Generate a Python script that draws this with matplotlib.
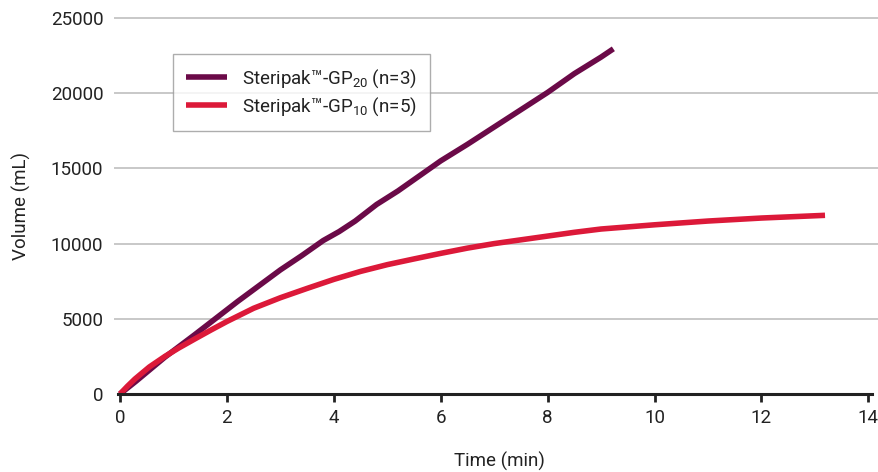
import matplotlib
matplotlib.use('Agg')
import matplotlib.pyplot as plt

plt.rcParams['font.family'] = ['Roboto', 'DejaVu Sans']
plt.rcParams['mathtext.fontset'] = 'custom'
plt.rcParams['mathtext.rm'] = 'Roboto'
plt.rcParams['mathtext.it'] = 'Roboto'

# GP20 (n=3)
t_gp20 = [0, 0.3, 0.84, 1.4, 1.8, 2.2, 2.6, 3.0, 3.4, 3.8, 4.1, 4.4, 4.8, 5.2, 5.6, 6.0,
          6.5, 7.0, 7.5, 8.0, 8.5, 9.0, 9.23]
v_gp20 = [0, 850, 2450, 3950, 5050, 6150, 7200, 8250, 9200, 10200, 10800, 11500, 12600,
          13500, 14500, 15500, 16600, 17750, 18900, 20050, 21300, 22400, 22950]

# GP10 (n=5)
t_gp10 = [0, 0.14, 0.28, 0.55, 0.84, 1.1, 1.4, 1.7, 2.0, 2.5, 3.0, 3.5, 4.0, 4.5, 5.0,
          5.5, 6.0, 6.5, 7.0, 7.5, 8.0, 8.5, 9.0, 10, 11, 12, 13.19]
v_gp10 = [0, 520, 1000, 1800, 2500, 3060, 3660, 4250, 4820, 5700, 6400, 7020, 7620, 8150,
          8600, 8980, 9350, 9700, 10000, 10250, 10500, 10750, 10970, 11250, 11500, 11700,
          11880]

labels = ['Steripak\u2122-GP$_{20}$ (n=3)', 'Steripak\u2122-GP$_{10}$ (n=5)']
purple = '#6b0a48'
red = '#dc1939'

fig = plt.figure(figsize=(8.79, 4.72), dpi=100)
ax = fig.add_axes([120 / 879, 1 - 394 / 472, 759 / 879, 376 / 472])

ax.set_xlim(0, 14.2)
ax.set_ylim(0, 25000)

for y in [5000, 10000, 15000, 20000, 25000]:
    ax.plot([-0.1, 14.2], [y, y], color='#c8c8c8', lw=1.4, clip_on=False, zorder=1)

ax.plot(t_gp20, v_gp20, color=purple, lw=4, label=labels[0], clip_on=False, zorder=3,
        solid_capstyle='butt', solid_joinstyle='round')
ax.plot(t_gp10, v_gp10, color=red, lw=4, label=labels[1], clip_on=False, zorder=3,
        solid_capstyle='butt', solid_joinstyle='round')

# x axis line
ax.plot([-0.04, 14.07], [0, 0], color='#222222', lw=2.2, clip_on=False, zorder=4)

for s in ax.spines.values():
    s.set_visible(False)

ax.set_xticks(range(0, 15, 2))
ax.set_yticks(range(0, 25001, 5000))
ax.tick_params(axis='x', length=6, width=2, color='#222222', labelsize=13.5, pad=5,
               labelcolor='#222222')
ax.tick_params(axis='y', length=0, labelsize=13.5, pad=12, labelcolor='#222222')
ax.set_xlabel('Time (min)', fontsize=13.5, labelpad=18, color='#222222')
ax.set_ylabel('Volume (mL)', fontsize=13.5, labelpad=14, color='#222222')

leg = ax.legend(loc='upper left', bbox_to_anchor=(173 / 879, 1 - 54 / 472),
                bbox_transform=fig.transFigure, fontsize=13.5, frameon=True,
                fancybox=False, edgecolor='#999999', handlelength=2.2,
                handletextpad=0.8, borderpad=0.7, borderaxespad=0, labelspacing=0.3)
leg.get_frame().set_linewidth(1)
for txt in leg.get_texts():
    txt.set_color('#222222')

fig.savefig('out.png', dpi=100)
